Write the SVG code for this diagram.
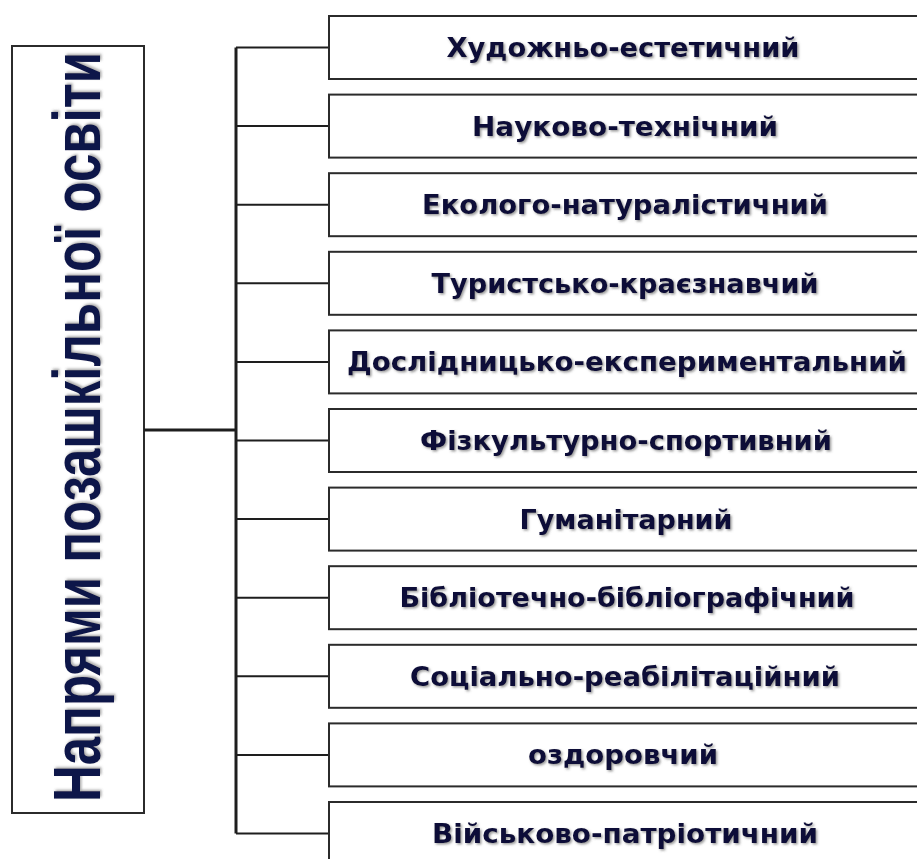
<svg xmlns="http://www.w3.org/2000/svg" width="917" height="859" viewBox="0 0 917 859">
<style>
.box{fill:#fff;stroke:#2b2b2b;stroke-width:2}
.lbl{font-family:"DejaVu Sans",Verdana,sans-serif;font-weight:bold;font-size:27px;fill:#0c0c38;text-anchor:middle}
.title{font-family:"Liberation Sans",Arial,sans-serif;font-weight:bold;font-size:66px;fill:#0a1448;text-anchor:middle}
.ln{stroke:#1e1e1e;stroke-width:2;fill:none}
.thick{stroke:#1e1e1e;stroke-width:3;fill:none}
</style>
<defs>
<filter id="sh" x="-5%" y="-20%" width="110%" height="140%">
<feDropShadow dx="1.5" dy="1.5" stdDeviation="1" flood-color="#555" flood-opacity="0.6"/>
</filter>
<filter id="sh2" x="-10%" y="-30%" width="120%" height="160%">
<feDropShadow dx="1.5" dy="1.5" stdDeviation="1" flood-color="#555" flood-opacity="0.5"/>
</filter>
</defs>
<rect width="917" height="859" fill="#fff"/>
<g id="root">
<rect class="box" x="12" y="46" width="132" height="767"/>
<text class="title" filter="url(#sh2)" transform="translate(100,427) rotate(-90)" textLength="750" lengthAdjust="spacingAndGlyphs">Напрями позашкільної освіти</text>
</g>
<g id="connectors">
<line class="thick" x1="144" y1="430" x2="236" y2="430"/>
<line class="thick" x1="236" y1="47.5" x2="236" y2="833.5"/>
<line class="ln" x1="236" y1="47.5" x2="329" y2="47.5"/>
<line class="ln" x1="236" y1="126.1" x2="329" y2="126.1"/>
<line class="ln" x1="236" y1="204.7" x2="329" y2="204.7"/>
<line class="ln" x1="236" y1="283.3" x2="329" y2="283.3"/>
<line class="ln" x1="236" y1="361.9" x2="329" y2="361.9"/>
<line class="ln" x1="236" y1="440.5" x2="329" y2="440.5"/>
<line class="ln" x1="236" y1="519.1" x2="329" y2="519.1"/>
<line class="ln" x1="236" y1="597.7" x2="329" y2="597.7"/>
<line class="ln" x1="236" y1="676.3" x2="329" y2="676.3"/>
<line class="ln" x1="236" y1="754.9" x2="329" y2="754.9"/>
<line class="ln" x1="236" y1="833.5" x2="329" y2="833.5"/>
</g>
<g id="n1"><rect class="box" x="329" y="16" width="600" height="63"/><text class="lbl" filter="url(#sh)" x="623" y="57" textLength="353" lengthAdjust="spacingAndGlyphs">Художньо-естетичний</text></g>
<g id="n2"><rect class="box" x="329" y="94.6" width="600" height="63"/><text class="lbl" filter="url(#sh)" x="625" y="135.6" textLength="306" lengthAdjust="spacingAndGlyphs">Науково-технічний</text></g>
<g id="n3"><rect class="box" x="329" y="173.2" width="600" height="63"/><text class="lbl" filter="url(#sh)" x="625" y="214.2" textLength="406" lengthAdjust="spacingAndGlyphs">Еколого-натуралістичний</text></g>
<g id="n4"><rect class="box" x="329" y="251.8" width="600" height="63"/><text class="lbl" filter="url(#sh)" x="625" y="292.8" textLength="387" lengthAdjust="spacingAndGlyphs">Туристсько-краєзнавчий</text></g>
<g id="n5"><rect class="box" x="329" y="330.4" width="600" height="63"/><text class="lbl" filter="url(#sh)" x="627" y="371.4" textLength="560" lengthAdjust="spacingAndGlyphs">Дослідницько-експериментальний</text></g>
<g id="n6"><rect class="box" x="329" y="409" width="600" height="63"/><text class="lbl" filter="url(#sh)" x="626" y="450" textLength="412" lengthAdjust="spacingAndGlyphs">Фізкультурно-спортивний</text></g>
<g id="n7"><rect class="box" x="329" y="487.6" width="600" height="63"/><text class="lbl" filter="url(#sh)" x="626" y="528.6" textLength="213" lengthAdjust="spacingAndGlyphs">Гуманітарний</text></g>
<g id="n8"><rect class="box" x="329" y="566.2" width="600" height="63"/><text class="lbl" filter="url(#sh)" x="627" y="607.2" textLength="455" lengthAdjust="spacingAndGlyphs">Бібліотечно-бібліографічний</text></g>
<g id="n9"><rect class="box" x="329" y="644.8" width="600" height="63"/><text class="lbl" filter="url(#sh)" x="625" y="685.8" textLength="430" lengthAdjust="spacingAndGlyphs">Соціально-реабілітаційний</text></g>
<g id="n10"><rect class="box" x="329" y="723.4" width="600" height="63"/><text class="lbl" filter="url(#sh)" x="623" y="764.4" textLength="190" lengthAdjust="spacingAndGlyphs">оздоровчий</text></g>
<g id="n11"><rect class="box" x="329" y="802" width="600" height="63"/><text class="lbl" filter="url(#sh)" x="625" y="843" textLength="386" lengthAdjust="spacingAndGlyphs">Військово-патріотичний</text></g>
</svg>
